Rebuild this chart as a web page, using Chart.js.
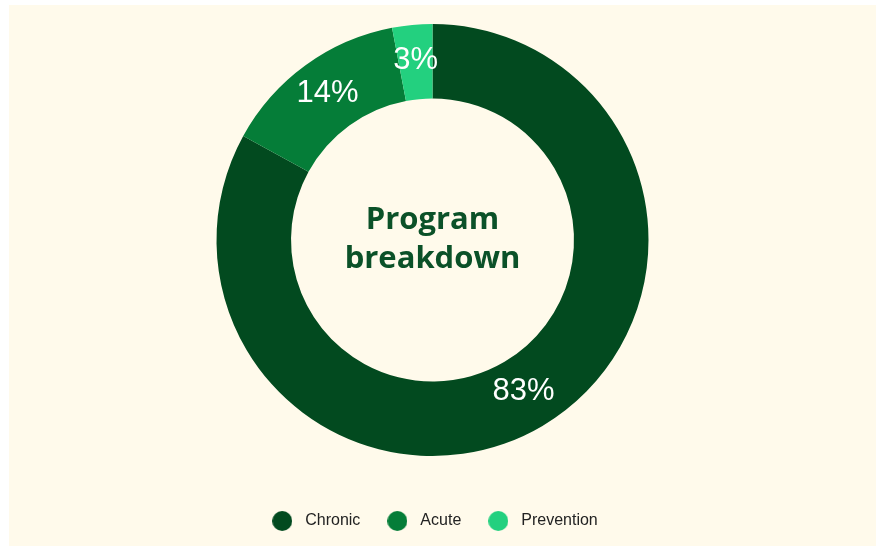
<!DOCTYPE html>
<html>
<head>
<meta charset="utf-8">
<script src="https://cdn.jsdelivr.net/npm/chart.js@4"></script>
<style>
  html, body { margin: 0; padding: 0; background: #ffffff; overflow: hidden; }
  #panel { position: absolute; left: 9px; top: 5px; width: 867px; height: 541px; background: #fffaeb; }
  #myChart { position: absolute; left: 0; top: 0; }
</style>
</head>
<body>
<div id="panel"><canvas id="myChart" width="847" height="534"></canvas></div>
<script>
const categories = ['Chronic', 'Acute', 'Prevention'];
const shares = [83, 14, 3];
const colors = ['#024a1f', '#057d38', '#23d07f'];
const centerLines = ['Program', 'breakdown'];

const ctx = document.getElementById('myChart');

// round legend markers, drawn as little canvases so the gap to the text can be wider
const dot = (color) => {
    const c = document.createElement('canvas');
    c.width = 20;
    c.height = 20;
    const g = c.getContext('2d');
    g.fillStyle = color;
    g.beginPath();
    g.arc(10, 10, 10, 0, Math.PI * 2);
    g.fill();
    return c;
};
const dots = colors.map(dot);

const sliceLabels = {
    id: 'sliceLabels',
    afterDatasetsDraw(chart) {
        const c = chart.ctx;
        const meta = chart.getDatasetMeta(0);
        c.save();
        c.fillStyle = '#ffffff';
        c.font = '31px "Liberation Sans", Arial, sans-serif';
        c.textAlign = 'center';
        c.textBaseline = 'middle';
        meta.data.forEach((arc, i) => {
            const p = arc.tooltipPosition();
            c.fillText(shares[i] + '%', p.x, p.y - 2);
        });
        c.restore();
    }
};

const centerText = {
    id: 'centerText',
    afterDraw(chart) {
        const arc = chart.getDatasetMeta(0).data[0];
        const c = chart.ctx;
        c.save();
        c.fillStyle = '#0b5128';
        c.font = 'bold 31px "Open Sans", sans-serif';
        c.textAlign = 'center';
        c.textBaseline = 'alphabetic';
        c.fillText(centerLines[0], arc.x, arc.y - 11);
        c.fillText(centerLines[1], arc.x, arc.y + 28);
        c.restore();
    }
};

new Chart(ctx, {
    type: 'doughnut',
    data: {
        labels: categories,
        datasets: [{
            data: shares,
            backgroundColor: colors,
            borderWidth: 0,
            cutout: '65.5%'
        }]
    },
    options: {
        responsive: false,
        animation: false,
        devicePixelRatio: 1,
        layout: { padding: { top: 19, bottom: 0, left: 0, right: 0 } },
        plugins: {
            tooltip: { enabled: false },
            legend: {
                position: 'bottom',
                title: { display: true, text: '', padding: 0, font: { size: 35, lineHeight: 1 } },
                labels: {
                    usePointStyle: true,
                    pointStyleWidth: 30,
                    padding: 22,
                    color: '#222222',
                    font: { family: '"Liberation Sans", Arial, sans-serif', size: 16 },
                    generateLabels(chart) {
                        const items = Chart.overrides.doughnut.plugins.legend.labels.generateLabels(chart);
                        items.forEach((it, i) => { it.pointStyle = dots[i]; });
                        return items;
                    }
                }
            }
        }
    },
    plugins: [sliceLabels, centerText]
});
</script>
</body>
</html>
